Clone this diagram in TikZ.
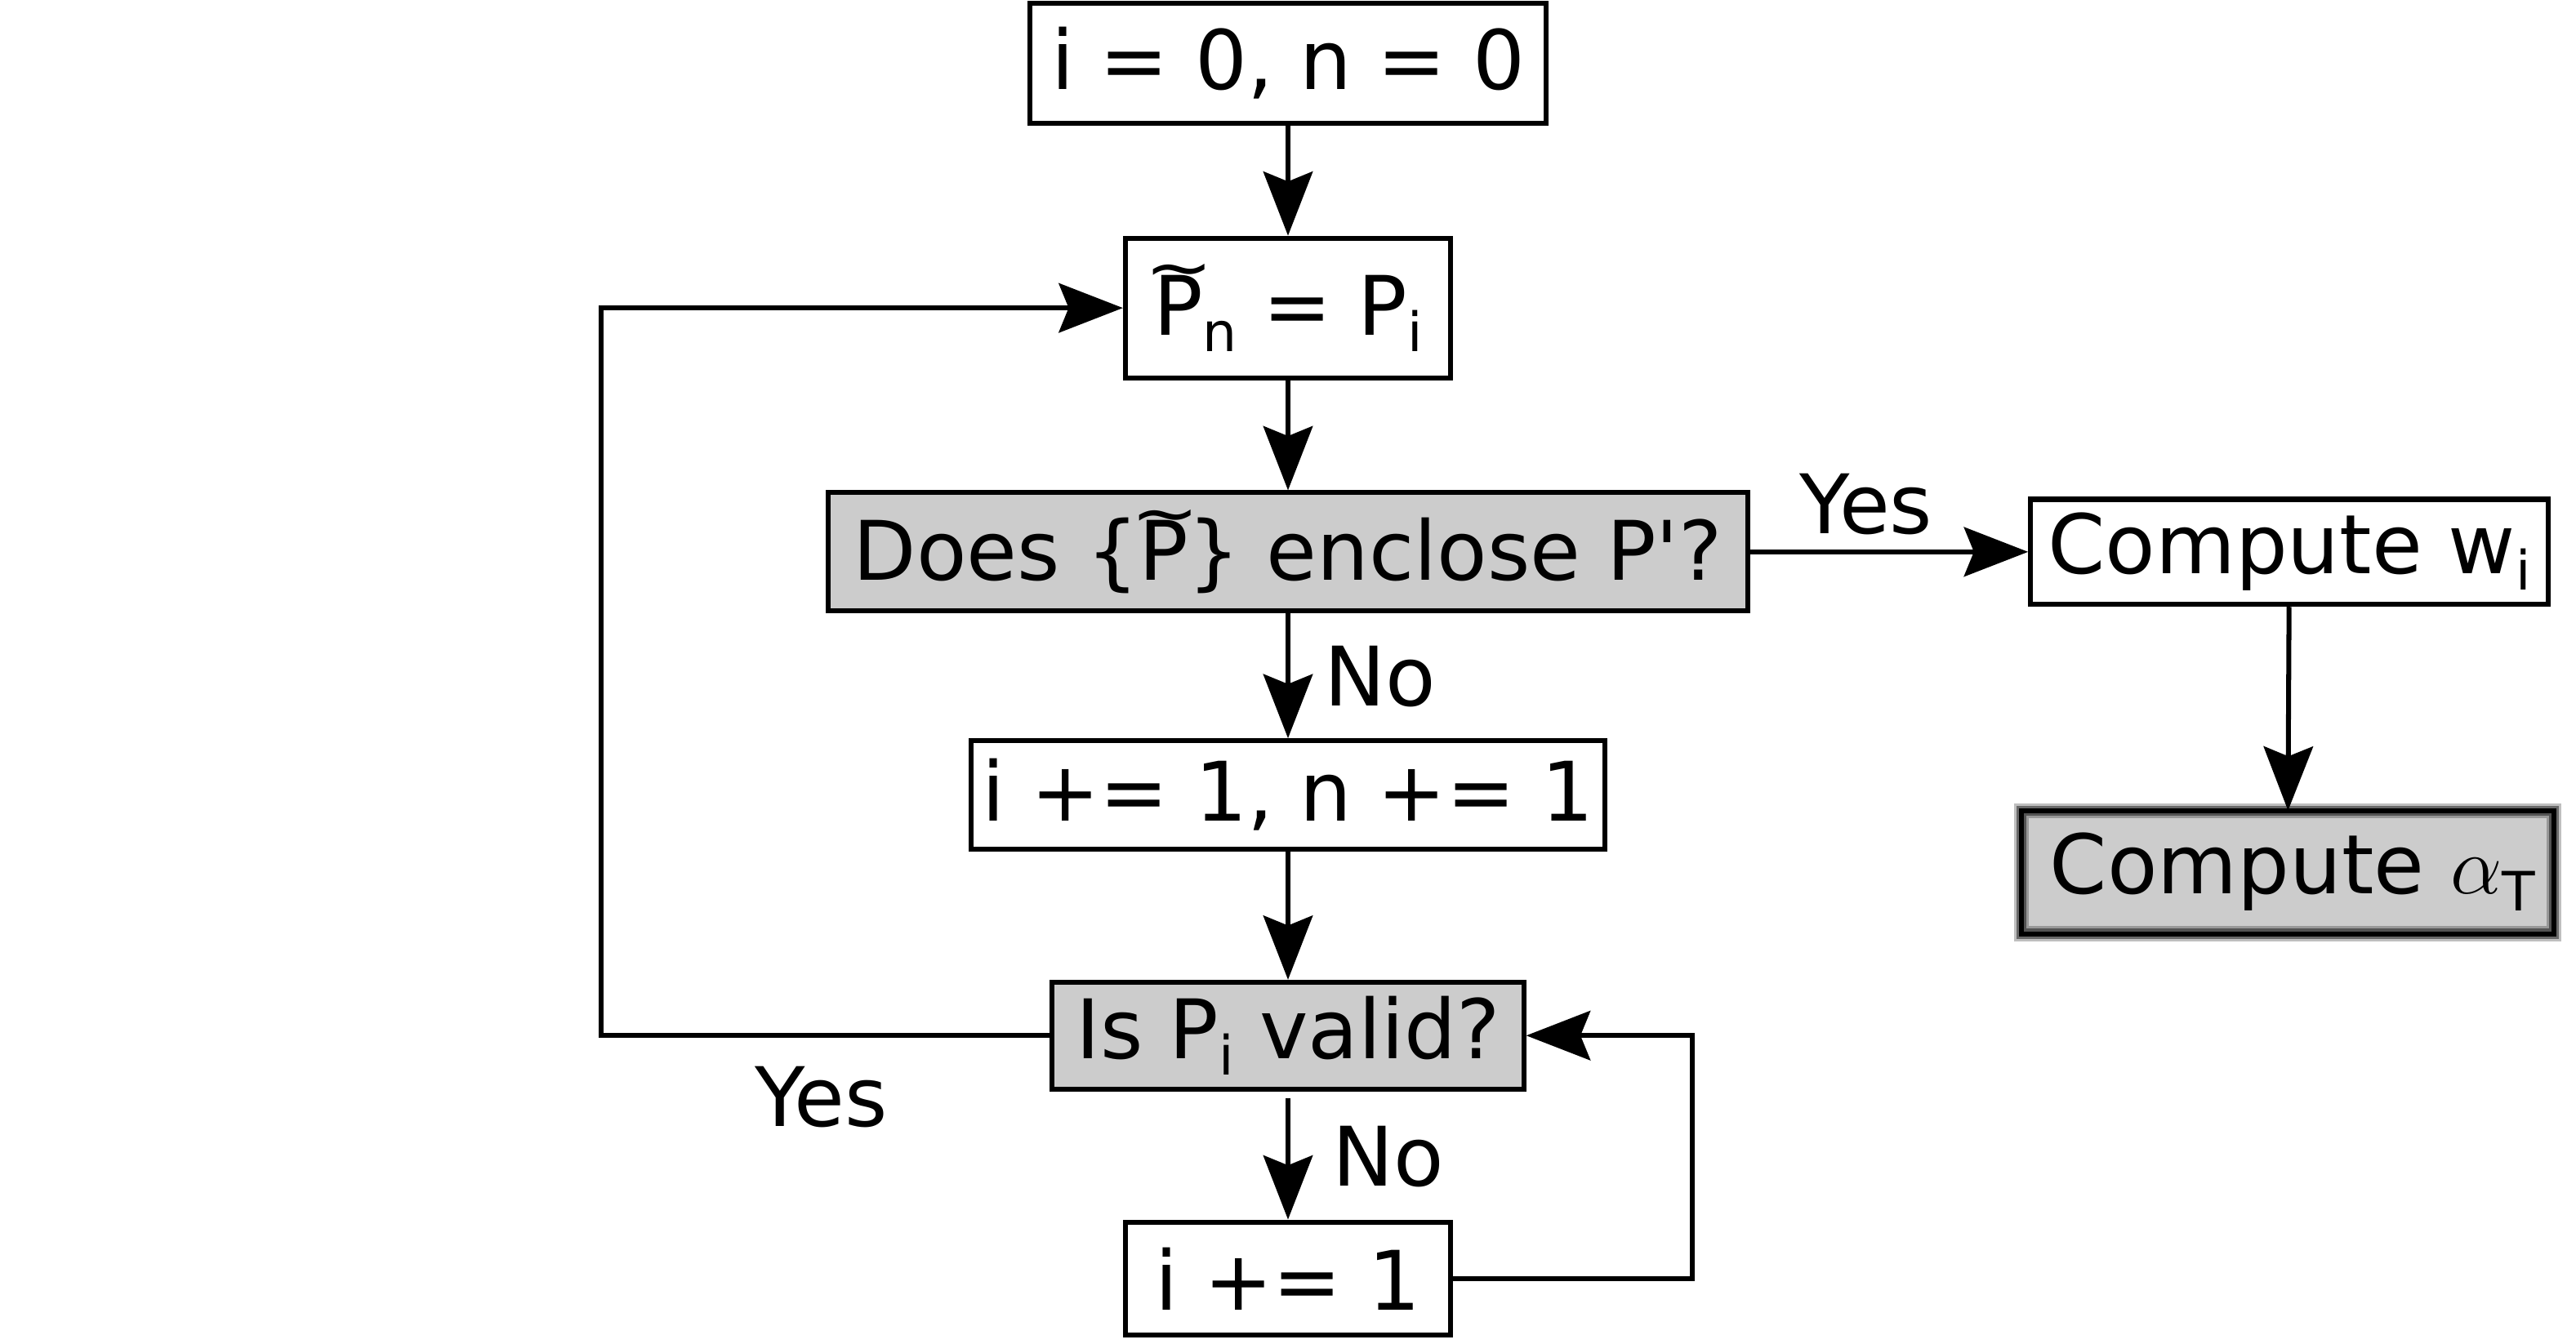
\RequirePackage{fix-cm}
\documentclass[tikz,border=0pt]{standalone}
\usepackage{fontspec}
\usepackage{graphicx}
\newfontfamily\dv{DejaVu Sans}
\usetikzlibrary{arrows.meta}
\definecolor{boxgray}{HTML}{CCCCCC}
\newcommand\lo[1]{\raisebox{-10pt}{\fontsize{33}{33}\selectfont #1}}
\newcommand\tP{\leavevmode\rlap{\kern-5pt\raisebox{27pt}{\scalebox{1}[0.8]{\textasciitilde}}}P}
\begin{document}
\begin{tikzpicture}[x=1pt,y=-1pt,
  txt/.style={font=\dv\fontsize{50}{60}\selectfont},
  box/.style={txt, draw, line width=3pt, inner sep=0pt, fill=white},
  gbox/.style={box, fill=boxgray},
  arr/.style={line width=3pt, -{Stealth[length=39pt,width=30pt,inset=6pt]}},
  lbl/.style={txt, inner sep=0pt}]
\useasboundingbox (0,0) rectangle (1568,818);
\node[box, minimum width=314pt, minimum height=73pt] (b1) at (784,38.5) {i = 0, n = 0};
\node[box, minimum width=198pt, minimum height=85pt] (b2) at (784,187.5) {\tP\lo{n} = P\lo{i}};
\node[gbox, minimum width=560pt, minimum height=72pt] (b3) at (784,336) {Does \{\tP\} enclose P'?};
\node[box, minimum width=315pt, minimum height=64pt] (b4) at (1393.5,336) {Compute w\lo{i}};
\node[gbox, draw=none, minimum width=321pt, minimum height=72pt] (b5) at (1392.5,531) {\hspace*{6pt}Compute $\alpha$\lo{T}};
\draw[line width=9pt, opacity=.25] (b5.south west) rectangle (b5.north east);
\draw[line width=6pt, opacity=.45] (b5.south west) rectangle (b5.north east);
\draw[line width=3pt] (b5.south west) rectangle (b5.north east);
\node[box, minimum width=386pt, minimum height=66pt] (b6) at (784,484) {i += 1, n += 1};
\node[gbox, minimum width=287pt, minimum height=65pt] (b7) at (784,630.5) {Is P\lo{i} valid?};
\node[box, minimum width=198pt, minimum height=69pt] (b8) at (784,778.5) {i += 1};
\coordinate (lc) at (366,630.5);
\coordinate (rc) at (1030,778.5);
\draw[arr] (b1) -- (b2);
\draw[arr] (b2) -- (b3);
\draw[arr] (b3) -- (b4);
\draw[arr] (b4) -- (b5);
\draw[arr] (b3) -- (b6);
\draw[arr] (b6) -- (b7);
\draw[arr, shorten <=4pt] (b7) -- (b8);
\draw[arr] (b7.west) -- (lc) |- (b2.west);
\draw[arr] (b8.east) -- (rc) |- (b7.east);
\node[lbl] (y1) at (1136,307) {Yes};
\node[lbl] (n1) at (840,412) {No};
\node[lbl] (y2) at (500,668) {Yes};
\node[lbl] (n2) at (845,704) {No};
\end{tikzpicture}
\end{document}
